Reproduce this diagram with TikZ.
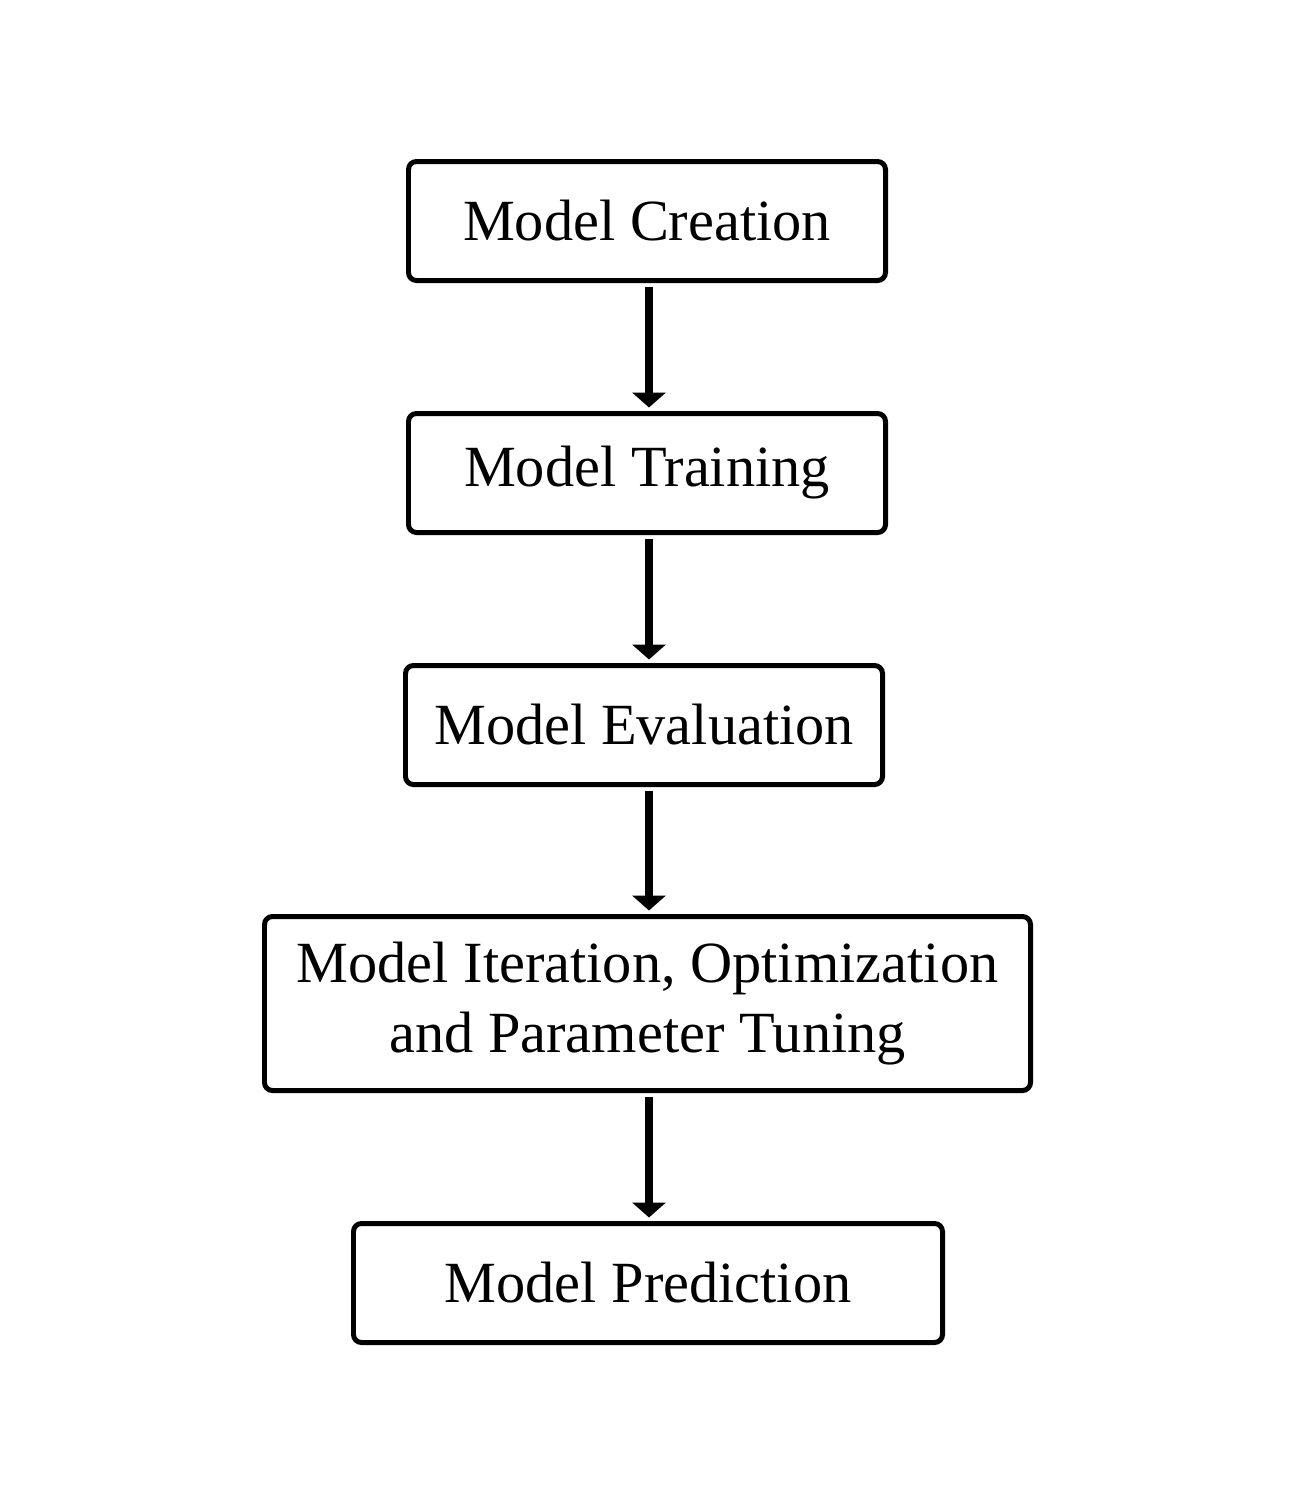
\documentclass[tikz,border=0pt]{standalone}
\usepackage{fontspec}
\setmainfont{Liberation Serif}
\usetikzlibrary{arrows.meta}
\begin{document}
\begin{tikzpicture}[x=1cm,y=1cm,
  stepbox/.style={draw=black, line width=1.42pt, rounded corners=0.08cm, fill=white,
    inner sep=0pt, align=center, font=\fontsize{16.6}{20}\selectfont},
  arr/.style={line width=2pt, -{Triangle[width=0.33cm,length=0.15cm]}}]
\useasboundingbox[fill=white] (0,0) rectangle (13.04,-14.92);
\node[stepbox, minimum width=4.77cm, minimum height=1.19cm] (a) at (6.47,-2.21) {Model Creation};
\node[stepbox, minimum width=4.77cm, minimum height=1.19cm] (b) at (6.47,-4.73) {Model Training};
\node[stepbox, minimum width=4.77cm, minimum height=1.19cm] (c) at (6.44,-7.25) {Model Evaluation};
\node[stepbox, minimum width=7.66cm, minimum height=1.74cm] (d) at (6.475,-10.035) {Model Iteration, Optimization\\and Parameter Tuning};
\node[stepbox, minimum width=5.89cm, minimum height=1.19cm] (e) at (6.48,-12.83) {Model Prediction};
\draw[arr] ([xshift=0.02cm,yshift=-0.04cm]a.south) -- ([xshift=0.02cm,yshift=0.035cm]a.south |- b.north);
\draw[arr] ([xshift=0.02cm,yshift=-0.04cm]b.south) -- ([xshift=0.02cm,yshift=0.035cm]b.south |- c.north);
\draw[arr] ([xshift=0.05cm,yshift=-0.04cm]c.south) -- ([xshift=0.05cm,yshift=0.035cm]c.south |- d.north);
\draw[arr] ([xshift=0.015cm,yshift=-0.04cm]d.south) -- ([xshift=0.015cm,yshift=0.035cm]d.south |- e.north);
\end{tikzpicture}
\end{document}
